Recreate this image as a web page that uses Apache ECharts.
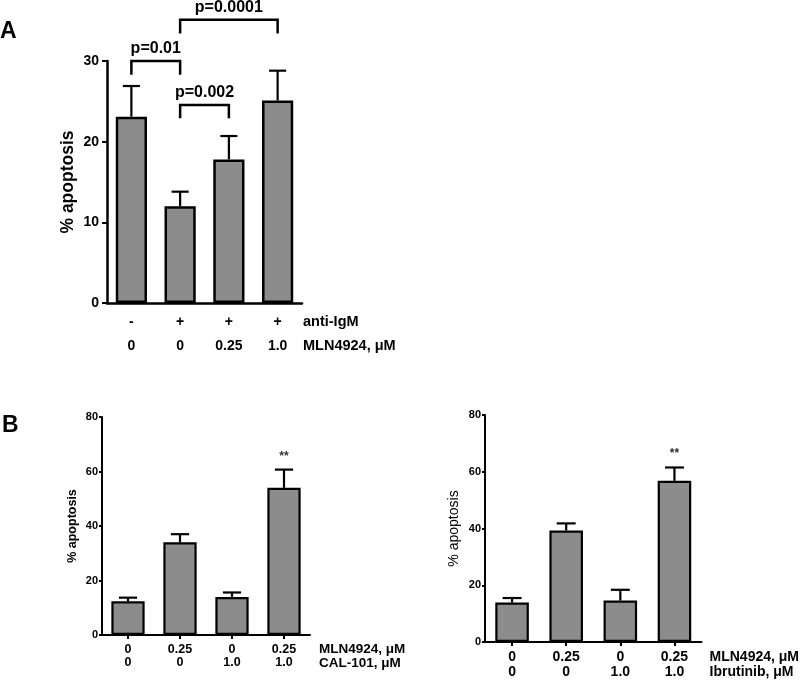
<!DOCTYPE html>
<html>
<head>
<meta charset="utf-8">
<script src="https://cdn.jsdelivr.net/npm/echarts@6/dist/echarts.min.js"></script>
<style>html,body{margin:0;padding:0;background:#fff;}#c{width:800px;height:681px;}</style>
</head>
<body>
<div id="c"></div>
<script>
// ---- Panel A data ----
const aRow1 = ['-', '+', '+', '+'];
const aRow2 = ['0', '0', '0.25', '1.0'];
const aValues = [23.1, 12.0, 17.8, 25.1];
const aErrors = [3.8, 1.8, 2.9, 3.7];
const aYTicks = [0, 10, 20, 30];
const bracketFrom = [0, 1, 1];
const bracketTo = [1, 2, 3];
const bracketTop = [30.0, 24.55, 35.1];
const bracketLegL = [28.3, 22.9, 33.4];
const bracketLegR = [28.3, 22.9, 33.4];
const bracketText = ['p=0.01', 'p=0.002', 'p=0.0001'];

// ---- Panel B (left) data ----
const bLRow1 = ['0', '0.25', '0', '0.25'];
const bLRow2 = ['0', '0', '1.0', '1.0'];
const bLValues = [12.4, 34.0, 13.9, 54.0];
const bLErrors = [1.3, 3.0, 1.7, 6.7];
const bLMarks = ['', '', '', '**'];

// ---- Panel B (right) data ----
const bRRow1 = ['0', '0.25', '0', '0.25'];
const bRRow2 = ['0', '0', '1.0', '1.0'];
const bRValues = [13.9, 39.3, 14.6, 56.8];
const bRErrors = [1.6, 2.5, 3.8, 4.7];
const bRMarks = ['', '', '', '**'];
const bYTicks = [0, 20, 40, 60, 80];

const FONT = '"Liberation Sans", Arial, sans-serif';
const BAR_FILL = '#8c8c8c';

function cats(r1, r2) { return r1.map((v, i) => v + '\n' + r2[i]); }

function errRender(capFrac, markOffset, markSize) {
  return function (params, api) {
    const i = api.value(0), v = api.value(1), e = api.value(2);
    const mark = params.dataIndex;
    const p0 = api.coord([i, v]);
    const p1 = api.coord([i, v + e]);
    const half = api.size([1, 0])[0] * capFrac / 2;
    const children = [
      { type: 'line', shape: { x1: p0[0], y1: p0[1], x2: p1[0], y2: p1[1] }, style: { stroke: '#000', lineWidth: 2 } },
      { type: 'line', shape: { x1: p1[0] - half, y1: p1[1], x2: p1[0] + half, y2: p1[1] }, style: { stroke: '#000', lineWidth: 2 } }
    ];
    const txt = params.context.marks ? params.context.marks[mark] : '';
    return { type: 'group', children: children };
  };
}

function errSeries(xi, yi, values, errors, capFrac, marks, markOffset, markSize) {
  return {
    type: 'custom', xAxisIndex: xi, yAxisIndex: yi, clip: false, z: 3,
    data: values.map((v, i) => [i, v, errors[i]]),
    encode: { x: 0, y: [1, 2] },
    renderItem: function (params, api) {
      const i = api.value(0), v = api.value(1), e = api.value(2);
      const p0 = api.coord([i, v]);
      const p1 = api.coord([i, v + e]);
      const half = api.size([1, 0])[0] * capFrac / 2;
      const children = [
        { type: 'line', shape: { x1: p0[0], y1: p0[1], x2: p1[0], y2: p1[1] }, style: { stroke: '#000', lineWidth: 2.2 } },
        { type: 'line', shape: { x1: p1[0] - half, y1: p1[1], x2: p1[0] + half, y2: p1[1] }, style: { stroke: '#000', lineWidth: 2.2 } }
      ];
      if (marks && marks[params.dataIndex]) {
        children.push({ type: 'text', style: { text: marks[params.dataIndex], x: p1[0], y: p1[1] - markOffset, align: 'center', verticalAlign: 'middle', font: 'bold ' + markSize + 'px ' + FONT, fill: '#333' } });
      }
      return { type: 'group', children: children };
    }
  };
}

function barSeries(xi, yi, values, width, bw) {
  return {
    type: 'bar', xAxisIndex: xi, yAxisIndex: yi, data: values, barWidth: width, z: 2,
    itemStyle: { color: BAR_FILL, borderColor: '#000', borderWidth: bw }
  };
}

const option = {
  animation: false,
  backgroundColor: '#fff',
  textStyle: { fontFamily: FONT },
  graphic: [
    { type: 'text', left: 0, top: 20, style: { text: 'A', font: 'bold 23px ' + FONT, fill: '#000' } },
    { type: 'text', left: 2, top: 414, style: { text: 'B', font: 'bold 23px ' + FONT, fill: '#000' } }
  ],
  grid: [
    { left: 107, right: 498, top: 61, bottom: 378 },
    { left: 102, right: 490, top: 417, bottom: 46 },
    { left: 485, right: 98, top: 415, bottom: 39 }
  ],
  xAxis: [
    {
      gridIndex: 0, type: 'category', data: cats(aRow1, aRow2),
      axisLine: { lineStyle: { color: '#000', width: 2.5 } },
      axisTick: { show: false },
      axisLabel: { margin: 7, color: '#000', fontWeight: 'bold', fontSize: 14, lineHeight: 24, interval: 0 },
      name: 'anti-IgM\nMLN4924, \u03bcM', nameLocation: 'end', nameGap: 1,
      nameTextStyle: { color: '#000', fontWeight: 'bold', fontSize: 14.5, lineHeight: 24, align: 'left', verticalAlign: 'top', padding: [7, 0, 0, 0] }
    },
    {
      gridIndex: 1, type: 'category', data: cats(bLRow1, bLRow2),
      axisLine: { lineStyle: { color: '#000', width: 2 } },
      axisTick: { show: true, alignWithLabel: true, length: 4, lineStyle: { color: '#000', width: 2 } },
      axisLabel: { margin: 7.5, color: '#000', fontWeight: 'bold', fontSize: 12.5, lineHeight: 13.5, interval: 0 },
      name: 'MLN4924, \u03bcM\nCAL-101, \u03bcM', nameLocation: 'end', nameGap: 9,
      nameTextStyle: { color: '#000', fontWeight: 'bold', fontSize: 13.5, lineHeight: 13.7, align: 'left', verticalAlign: 'top', padding: [7.5, 0, 0, 0] }
    },
    {
      gridIndex: 2, type: 'category', data: cats(bRRow1, bRRow2),
      axisLine: { lineStyle: { color: '#000', width: 2 } },
      axisTick: { show: true, alignWithLabel: true, length: 4, lineStyle: { color: '#000', width: 2 } },
      axisLabel: { margin: 7.2, color: '#000', fontWeight: 'bold', fontSize: 14, lineHeight: 15.5, interval: 0 },
      name: 'MLN4924, \u03bcM\nIbrutinib, \u03bcM', nameLocation: 'end', nameGap: 8,
      nameTextStyle: { color: '#000', fontWeight: 'bold', fontSize: 14, lineHeight: 15.5, align: 'left', verticalAlign: 'top', padding: [7, 0, 0, 0] }
    }
  ],
  yAxis: [
    {
      gridIndex: 0, type: 'value', min: aYTicks[0], max: aYTicks[aYTicks.length - 1], interval: aYTicks[1] - aYTicks[0],
      splitLine: { show: false },
      axisLine: { show: true, lineStyle: { color: '#000', width: 2.5 } },
      axisTick: { show: true, length: 5, lineStyle: { color: '#000', width: 2 } },
      axisLabel: { margin: 8, color: '#000', fontWeight: 'bold', fontSize: 14 },
      name: '% apoptosis', nameLocation: 'middle', nameRotate: 90, nameGap: 30,
      nameTextStyle: { color: '#000', fontWeight: 'bold', fontSize: 17.5 }
    },
    {
      gridIndex: 1, type: 'value', min: bYTicks[0], max: bYTicks[bYTicks.length - 1], interval: bYTicks[1] - bYTicks[0],
      splitLine: { show: false },
      axisLine: { show: true, lineStyle: { color: '#000', width: 2 } },
      axisTick: { show: true, length: 3, lineStyle: { color: '#000', width: 2 } },
      axisLabel: { margin: 4, color: '#000', fontWeight: 'bold', fontSize: 11 },
      name: '% apoptosis', nameLocation: 'middle', nameRotate: 90, nameGap: 23,
      nameTextStyle: { color: '#000', fontWeight: 'bold', fontSize: 12.5 }
    },
    {
      gridIndex: 2, type: 'value', min: bYTicks[0], max: bYTicks[bYTicks.length - 1], interval: bYTicks[1] - bYTicks[0],
      splitLine: { show: false },
      axisLine: { show: true, lineStyle: { color: '#000', width: 2 } },
      axisTick: { show: true, length: 3, lineStyle: { color: '#000', width: 2 } },
      axisLabel: { margin: 4, color: '#000', fontWeight: 'bold', fontSize: 11 },
      name: '% apoptosis', nameLocation: 'middle', nameRotate: 90, nameGap: 24,
      nameTextStyle: { color: '#000', fontWeight: 'normal', fontSize: 14 }
    }
  ],
  series: [
    barSeries(0, 0, aValues, '64%', 2.5),
    errSeries(0, 0, aValues, aErrors, 0.35, null, 0, 0),
    {
      type: 'custom', xAxisIndex: 0, yAxisIndex: 0, clip: false, z: 4,
      data: bracketFrom.map((f, i) => [f, bracketTo[i], bracketTop[i], bracketLegL[i], bracketLegR[i]]),
      encode: { x: [0, 1], y: [2, 3, 4] },
      renderItem: function (params, api) {
        const a = api.value(0), b = api.value(1);
        const top = api.value(2), l = api.value(3), r = api.value(4);
        const pA = api.coord([a, top]), pB = api.coord([b, top]);
        const pL = api.coord([a, l]), pR = api.coord([b, r]);
        return {
          type: 'group', children: [
            { type: 'polyline', shape: { points: [pL, pA, pB, pR] }, style: { stroke: '#000', lineWidth: 2.5, fill: null } },
            { type: 'text', style: { text: bracketText[params.dataIndex], x: (pA[0] + pB[0]) / 2, y: pA[1] - 4, align: 'center', verticalAlign: 'bottom', font: 'bold 16px ' + FONT, fill: '#000' } }
          ]
        };
      }
    },
    barSeries(1, 1, bLValues, '64%', 2.2),
    errSeries(1, 1, bLValues, bLErrors, 0.35, bLMarks, 13, 12),
    barSeries(2, 2, bRValues, '62%', 2.2),
    errSeries(2, 2, bRValues, bRErrors, 0.35, bRMarks, 14, 12)
  ]
};

const chart = echarts.init(document.getElementById('c'), null, { renderer: 'canvas' });
chart.setOption(option);
</script>
</body>
</html>
